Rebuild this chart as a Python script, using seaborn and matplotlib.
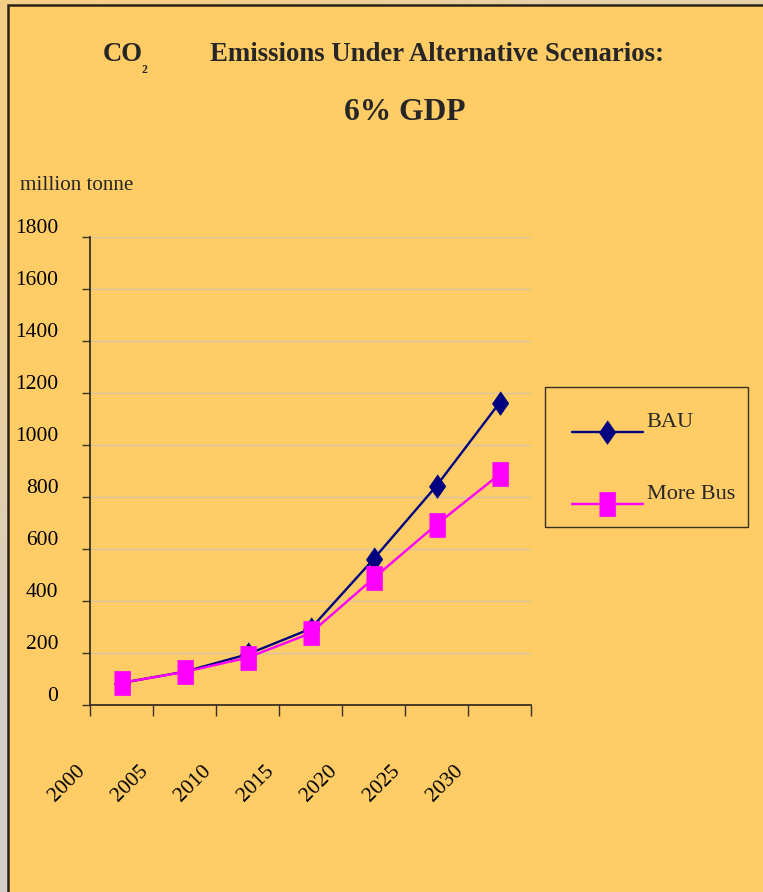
import numpy as np
import pandas as pd
import seaborn as sns
import matplotlib.pyplot as plt
import matplotlib.patches as mpatches
from matplotlib.lines import Line2D
from matplotlib.transforms import ScaledTranslation

# ---- data -------------------------------------------------------------
years = ['2000', '2005', '2010', '2015', '2020', '2025', '2030']
bau = [85, 128, 195, 293, 561, 843, 1162]
more_bus = [85, 127, 182, 276, 487, 694, 887]
series_names = ['BAU', 'More Bus']
y_ticks = [0, 200, 400, 600, 800, 1000, 1200, 1400, 1600, 1800]

df = pd.DataFrame({
    'year': years * 2,
    'value': bau + more_bus,
    'scenario': [series_names[0]] * len(years) + [series_names[1]] * len(years),
})
df['pos'] = df['year'].map({y: i for i, y in enumerate(years)})

# ---- style ------------------------------------------------------------
sns.set_style('white')
plt.rcParams['font.family'] = ['Liberation Serif', 'DejaVu Serif']

W, H, DPI = 763, 892, 100
BG = '#FFCC66'
DARK = '#3a3020'
GRID = '#D8C6A2'

def fx(px):
    return px / W

def fy(py):
    return 1 - py / H

def shift(dx_px, dy_px):
    return ScaledTranslation(dx_px / DPI, dy_px / DPI, fig.dpi_scale_trans)

fig = plt.figure(figsize=(W / DPI, H / DPI), dpi=DPI)
fig.patch.set_facecolor('#EAD2A6')

# frame behind the chart: soft gradient strip and the filled chart area
bg = fig.add_axes([0, 0, 1, 1], zorder=-10)
bg.set_axis_off()
grad = np.array([[[245, 206, 135], [230, 208, 170]],
                 [[212, 206, 200], [222, 210, 190]]]) / 255.0
bg.imshow(grad, extent=[0, 1, 0, 1], aspect='auto', interpolation='bilinear',
          origin='upper')
bg.add_patch(mpatches.Rectangle((fx(8), -0.02), 1.05, fy(5) + 0.02,
                                transform=bg.transAxes, facecolor=BG,
                                edgecolor='#2a2418', linewidth=1.8))
bg.set_xlim(0, 1)
bg.set_ylim(0, 1)

# ---- plot area ----------------------------------------------------------
ax = fig.add_axes([fx(90), fy(705), fx(531) - fx(90), fy(237) - fy(705)])
ax.set_facecolor(BG)

tall_diamond = [(0, 1), (0.7, 0), (0, -1), (-0.7, 0)]
tall_square = [(-0.7, -1), (0.7, -1), (0.7, 1), (-0.7, 1)]
palette = {series_names[0]: '#000080', series_names[1]: '#FF00FF'}
markers = {series_names[0]: tall_diamond, series_names[1]: tall_square}

sns.lineplot(data=df, x='pos', y='value', hue='scenario', style='scenario',
             hue_order=series_names, style_order=series_names,
             palette=palette, markers=markers, dashes=False,
             markersize=17, linewidth=1.7, errorbar=None,
             legend=False, ax=ax)

for line in ax.lines:
    c = line.get_color()
    line.set_markerfacecolor(c)
    line.set_markeredgecolor(c)
    line.set_markeredgewidth(0.5)

ax.set_xlim(-0.5, len(years) - 0.5)
ax.set_ylim(0, 1800)
ax.set_xlabel('')
ax.set_ylabel('')

# category boundaries carry the tick marks and the year labels
bounds = np.arange(-0.5, len(years), 1.0)
ax.set_xticks(bounds)
ax.set_xticklabels(years + [''], rotation=45, ha='right', fontsize=15.5)
ax.set_yticks(y_ticks)
ax.set_yticklabels([str(v) for v in y_ticks], fontsize=15.5)

ax.grid(axis='y', color=GRID, linewidth=1.0)
ax.grid(axis='x', visible=False)
ax.set_axisbelow(True)

for side in ('top', 'right'):
    ax.spines[side].set_visible(False)
for side in ('left', 'bottom'):
    ax.spines[side].set_color(DARK)
    ax.spines[side].set_linewidth(1.3)

ax.tick_params(axis='y', direction='out', length=5.8, width=1.0, color=DARK,
               pad=17, labelcolor='black', left=True)
ax.tick_params(axis='x', direction='out', length=7.9, width=1.0, color=DARK,
               pad=33, labelcolor='black', bottom=True)

for lbl in ax.get_yticklabels():
    lbl.set_transform(lbl.get_transform() + shift(0, 11))
for lbl in ax.get_xticklabels():
    lbl.set_transform(lbl.get_transform() + shift(-1, 0))

# ---- legend -------------------------------------------------------------
leg = ax.legend(handles=ax.lines[:2], labels=series_names,
                loc='upper left',
                bbox_to_anchor=(fx(545), fy(387), fx(748) - fx(545), 0),
                bbox_transform=fig.transFigure, mode='expand',
                fontsize=16, frameon=True, fancybox=False, shadow=False,
                borderpad=1.07, labelspacing=2.32, handlelength=3.2,
                handletextpad=0.3, borderaxespad=0)
leg.get_frame().set_facecolor(BG)
leg.get_frame().set_edgecolor(DARK)
leg.get_frame().set_linewidth(1.0)
leg.get_frame().set_alpha(1)
# keys sit a little lower than their labels
for h in leg.findobj(match=Line2D):
    if h is leg:
        continue
    h.set_transform(h.get_transform() + shift(3, -13))
for t in leg.get_texts():
    t.set_transform(t.get_transform() + shift(0, -1))

# ---- titles -------------------------------------------------------------
fig.text(fx(103), fy(61), 'CO', fontsize=19.3, fontweight='bold', ha='left',
         va='baseline')
fig.text(fx(142), fy(73), '2', fontsize=8.5, fontweight='bold', ha='left',
         va='baseline')
fig.text(fx(210), fy(61), 'Emissions Under Alternative Scenarios:',
         fontsize=19.3, fontweight='bold', ha='left', va='baseline')
fig.text(fx(405), fy(120), '6% GDP', fontsize=22.7, fontweight='bold',
         ha='center', va='baseline')
fig.text(fx(20), fy(190), 'million tonne', fontsize=15.2, ha='left',
         va='baseline')

fig.savefig('out.png', dpi=DPI, facecolor=fig.get_facecolor())
